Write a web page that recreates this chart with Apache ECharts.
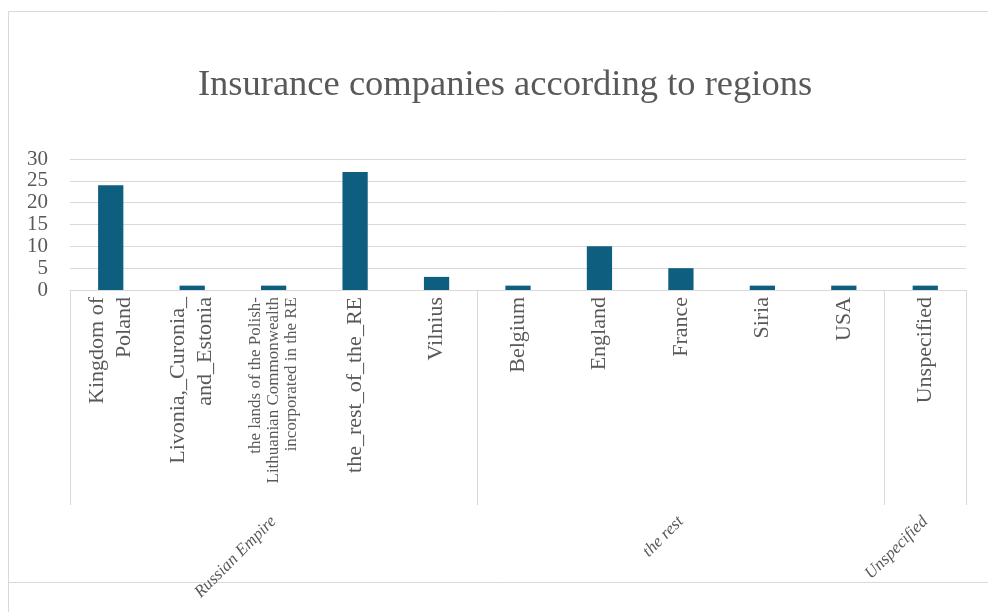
<!DOCTYPE html>
<html>
<head>
<meta charset="utf-8">
<script src="https://cdn.jsdelivr.net/npm/echarts@6/dist/echarts.min.js"></script>
<style>
  html, body { margin: 0; padding: 0; background: #ffffff; }
  #chart { width: 988px; height: 612px; }
</style>
</head>
<body>
<div id="chart"></div>
<script>
// Regions (first-level category labels)
const categories = [
  'Kingdom of\nPoland',
  'Livonia,_Curonia_\nand_Estonia',
  'the lands of the Polish-\nLithuanian Commonwealth\nincorporated in the RE',
  'the_rest_of_the_RE',
  'Vilnius',
  'Belgium',
  'England',
  'France',
  'Siria',
  'USA',
  'Unspecified'
];
// Number of insurance companies per region
const companies = [24, 1, 1, 27, 3, 1, 10, 5, 1, 1, 1];
// Second-level groups and how many regions each one spans
const groupNames = ['Russian Empire', 'the rest', 'Unspecified'];
const groupSizes = [5, 5, 1];
// Value axis
const yMin = 0;
const yMax = 30;
const yStep = 5;

// Group boundaries and centres in category units
const groupBounds = [0];
groupSizes.forEach(n => groupBounds.push(groupBounds[groupBounds.length - 1] + n));
const groupCenters = groupSizes.map((n, i) => groupBounds[i] + n / 2);

const TEXT = '#595959';
const LINE = '#d9d9d9';
const SERIF = '"Liberation Serif", "DejaVu Serif", serif';

const chart = echarts.init(document.getElementById('chart'), null, { renderer: 'canvas' });

chart.setOption({
  backgroundColor: '#ffffff',
  animation: false,
  title: {
    text: 'Insurance companies according to regions',
    left: 500,
    top: 62,
    textAlign: 'center',
    textStyle: { fontFamily: SERIF, fontSize: 36.5, fontWeight: 'normal', color: TEXT }
  },
  graphic: [
    {
      type: 'rect', silent: true,
      shape: { x: 8.5, y: 11.5, width: 1200, height: 800 },
      style: { fill: 'none', stroke: LINE, lineWidth: 1 }
    },
    {
      type: 'line', silent: true,
      shape: { x1: 8.5, y1: 582.5, x2: 1200, y2: 582.5 },
      style: { stroke: LINE, lineWidth: 1 }
    }
  ],
  grid: { left: 70, right: 22, top: 159, bottom: 322, containLabel: false },
  xAxis: [
    {
      type: 'category',
      position: 'bottom',
      data: categories,
      axisLine: { show: true, lineStyle: { color: LINE, width: 1 } },
      axisTick: { show: false },
      splitLine: { show: false },
      axisLabel: {
        interval: 0,
        rotate: 90,
        margin: 7,
        color: TEXT,
        fontFamily: SERIF,
        fontSize: 22,
        lineHeight: 27,
        formatter: function (v) {
          const lines = v.split('\n');
          if (lines.length > 2) {
            return lines.map(l => '{small|' + l + '}').join('\n');
          }
          return v;
        },
        rich: {
          small: { fontFamily: SERIF, fontSize: 17, lineHeight: 18, color: TEXT }
        }
      }
    },
    {
      type: 'value',
      position: 'bottom',
      min: 0,
      max: categories.length,
      axisLine: { show: false },
      splitLine: { show: false },
      axisTick: {
        show: true,
        inside: false,
        length: 215,
        customValues: groupBounds,
        lineStyle: { color: LINE, width: 1 }
      },
      axisLabel: {
        show: true,
        customValues: groupCenters,
        rotate: 45,
        margin: 229,
        color: TEXT,
        fontFamily: SERIF,
        fontStyle: 'italic',
        fontSize: 17,
        formatter: function (v) {
          const i = groupCenters.indexOf(v);
          return i >= 0 ? groupNames[i] : '';
        }
      }
    }
  ],
  yAxis: {
    type: 'value',
    min: yMin,
    max: yMax,
    interval: yStep,
    axisLine: { show: false },
    axisTick: { show: false },
    splitLine: { show: true, lineStyle: { color: LINE, width: 1 } },
    axisLabel: { margin: 22, color: TEXT, fontFamily: SERIF, fontSize: 21 }
  },
  series: [
    {
      type: 'bar',
      xAxisIndex: 0,
      data: companies,
      barWidth: '31%',
      itemStyle: { color: '#0e5e7f' }
    }
  ]
});
</script>
</body>
</html>
